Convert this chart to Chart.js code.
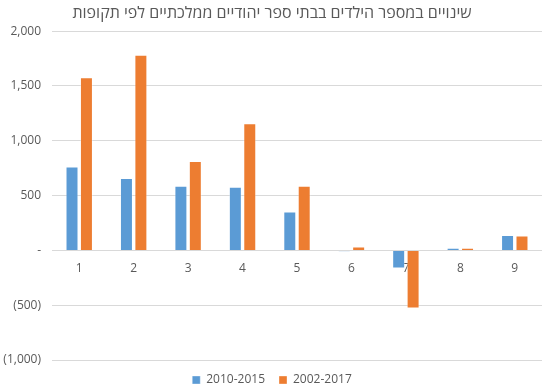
<!DOCTYPE html>
<html>
<head>
<meta charset="utf-8">
<script src="https://cdn.jsdelivr.net/npm/chart.js@4/dist/chart.umd.min.js"></script>
<style>
    html, body { margin: 0; padding: 0; background: #fff; }
    #wrap { width: 548px; height: 392px; }
</style>
</head>
<body>
<div id="wrap"><canvas id="barChart"></canvas></div>
<script>
// Chart data
const chartTitle = 'שינויים במספר הילדים בבתי ספר יהודיים ממלכתיים לפי תקופות';
const categories = ['1', '2', '3', '4', '5', '6', '7', '8', '9'];
const seriesNames = ['2010-2015', '2002-2017'];
const change2010to2015 = [765, 660, 590, 580, 355, -10, -165, 25, 140];
const change2002to2017 = [1580, 1785, 815, 1160, 590, 35, -530, 25, 135];
const yTicks = [-1000, -500, 0, 500, 1000, 1500, 2000];

const fontFamily = "'Open Sans', 'Liberation Sans', sans-serif";
const textGray = '#595959';

// Excel accounting style number format
function accounting(v) {
    if (v === 0) return '-';
    const s = Math.abs(v).toLocaleString('en-US');
    return v < 0 ? '(' + s + ')' : s;
}

document.addEventListener('DOMContentLoaded', function() {
    const ctx = document.getElementById('barChart');

    new Chart(ctx, {
        type: 'bar',
        data: {
            labels: categories,
            datasets: [{
                label: seriesNames[0],
                data: change2010to2015,
                backgroundColor: '#5B9BD5',
                borderColor: 'rgba(255,255,255,0.35)',
                borderWidth: 1,
                categoryPercentage: 0.53,
                barPercentage: 0.9
            }, {
                label: seriesNames[1],
                data: change2002to2017,
                backgroundColor: '#ED7D31',
                borderColor: 'rgba(255,255,255,0.35)',
                borderWidth: 1,
                categoryPercentage: 0.53,
                barPercentage: 0.9
            }]
        },
        options: {
            responsive: true,
            maintainAspectRatio: false,
            animation: false,
            layout: {
                padding: { left: 2, right: 6, top: 0, bottom: -4 }
            },
            plugins: {
                title: {
                    display: true,
                    text: chartTitle,
                    color: textGray,
                    font: { family: fontFamily, size: 16, weight: 'normal' },
                    padding: { top: 4, bottom: 8 }
                },
                legend: {
                    position: 'bottom',
                    labels: {
                        color: textGray,
                        font: { family: fontFamily, size: 12 },
                        boxWidth: 8,
                        boxHeight: 8,
                        padding: 14
                    }
                },
                tooltip: { enabled: false }
            },
            scales: {
                x: {
                    position: { y: 0 },
                    grid: { display: false },
                    border: { display: false },
                    ticks: {
                        color: textGray,
                        font: { family: fontFamily, size: 12 },
                        padding: 3
                    }
                },
                y: {
                    min: yTicks[0],
                    max: yTicks[yTicks.length - 1],
                    afterBuildTicks: function(axis) {
                        axis.ticks = yTicks.map(v => ({ value: v }));
                    },
                    afterFit: function(axis) {
                        axis.width = 50;
                    },
                    grid: { color: '#D9D9D9', lineWidth: 1, drawTicks: false },
                    border: { display: false },
                    ticks: {
                        color: textGray,
                        font: { family: fontFamily, size: 12 },
                        padding: 11,
                        callback: function(value) { return accounting(value); }
                    }
                }
            }
        }
    });
});
</script>
</body>
</html>
